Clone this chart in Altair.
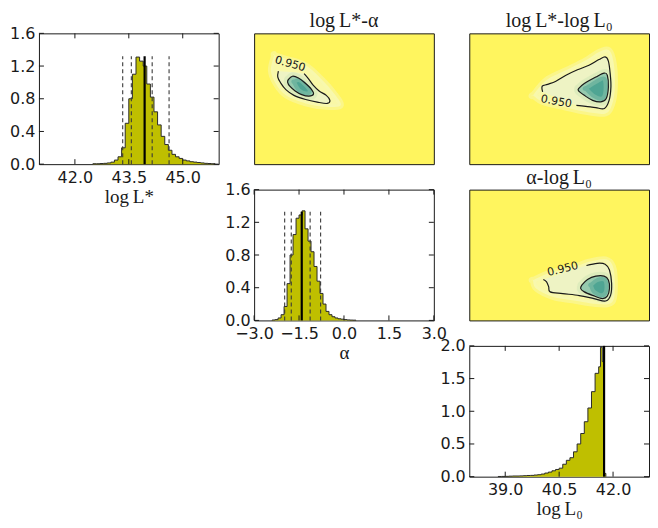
import altair as alt
import pandas as pd

# ---------------- histogram data ----------------
LSTAR_EDGES = [42.5, 42.6, 42.7, 42.8, 42.9, 43.0, 43.1, 43.2, 43.3, 43.4, 43.5, 43.6,
               43.7, 43.8, 43.9, 44.0, 44.1, 44.2, 44.3, 44.4, 44.5, 44.6, 44.7, 44.8,
               44.9, 45.0, 45.1, 45.2, 45.3, 45.4, 45.5, 45.6, 45.7, 45.8, 45.9]
LSTAR_DENS = [0.005, 0.005, 0.008, 0.01, 0.015, 0.025, 0.05, 0.09, 0.2, 0.5, 0.8, 1.1,
              1.31, 1.26, 1.2, 0.98, 0.82, 0.64, 0.48, 0.34, 0.24, 0.17, 0.12, 0.09,
              0.07, 0.05, 0.04, 0.03, 0.025, 0.02, 0.015, 0.01, 0.008, 0.005]
LSTAR_MEDIAN = 43.94
LSTAR_BOUNDS = [43.33, 43.57, 44.15, 44.62]
LSTAR_LINE_TOP = 1.32

ALPHA_EDGES = [-2.4, -2.3, -2.2, -2.1, -2.0, -1.9, -1.8, -1.7, -1.6, -1.5, -1.4, -1.3,
               -1.2, -1.1, -1.0, -0.9, -0.8, -0.7, -0.6, -0.5, -0.4, -0.3, -0.2, -0.1,
               0.0, 0.1, 0.2, 0.3, 0.4]
ALPHA_DENS = [0.005, 0.01, 0.03, 0.07, 0.17, 0.45, 0.8, 1.05, 1.25, 1.29, 1.34, 1.12,
              0.97, 0.84, 0.66, 0.48, 0.33, 0.2, 0.11, 0.07, 0.045, 0.03, 0.02, 0.015,
              0.01, 0.006, 0.004, 0.003]
ALPHA_MEDIAN = -1.41
ALPHA_BOUNDS = [-1.98, -1.76, -1.13, -0.78]
ALPHA_LINE_TOP = 1.33

L0_EDGES = [38.8, 38.9, 39.0, 39.1, 39.2, 39.3, 39.4, 39.5, 39.6, 39.7, 39.8, 39.9,
            40.0, 40.1, 40.2, 40.3, 40.4, 40.5, 40.6, 40.7, 40.8, 40.9, 41.0, 41.1,
            41.2, 41.3, 41.4, 41.5, 41.6, 41.65, 41.7, 41.75, 41.8]
L0_DENS = [0.003, 0.004, 0.005, 0.008, 0.01, 0.01, 0.012, 0.015, 0.018, 0.02, 0.025, 0.03,
           0.04, 0.055, 0.07, 0.09, 0.11, 0.13, 0.19, 0.25, 0.29, 0.38, 0.5, 0.66,
           0.84, 1.05, 1.3, 1.58, 1.68, 1.98, 1.76, 0.05]
L0_MEDIAN = 41.75
L0_LINE_TOP = 2.0

# ---------------- 2-D contour data (vertices) ----------------
# panel logL*-alpha : x = alpha, y = logL*
P2_HALO = [(-2.33, 45.16), (-1.94, 45.03), (-1.28, 44.78), (-0.72, 44.21), (-0.33, 43.70),
           (-0.11, 43.25), (-0.61, 43.19), (-1.28, 43.32), (-1.94, 43.63), (-2.28, 44.08),
           (-2.44, 44.59)]
P2_OUTER = [(-2.19, 44.56), (-2.21, 44.33), (-2.11, 44.10), (-1.94, 43.85), (-1.67, 43.63),
            (-1.28, 43.47), (-0.89, 43.37), (-0.56, 43.32), (-0.47, 43.44), (-0.59, 43.63),
            (-0.83, 43.80), (-1.03, 44.02), (-1.19, 44.27), (-1.33, 44.46)]
P2_INNER = [(-1.86, 44.23), (-1.72, 44.36), (-1.52, 44.29), (-1.30, 44.10), (-1.08, 43.85),
            (-1.02, 43.67), (-1.17, 43.60), (-1.41, 43.66), (-1.63, 43.80), (-1.81, 43.98),
            (-1.88, 44.13)]
P2_CORE = [(-1.67, 44.14), (-1.5, 44.21), (-1.28, 44.02), (-1.14, 43.80), (-1.26, 43.70),
           (-1.5, 43.82)]
P2_LABEL = (-1.80, 44.82)

# panel logL*-logL0 : x = logL0, y = logL*
P3_HALO = [(39.77, 43.63), (40.14, 44.21), (40.69, 44.59), (41.24, 44.97), (41.61, 45.29),
           (41.89, 45.35), (42.02, 44.84), (42.05, 43.95), (41.98, 43.32), (41.79, 42.94),
           (41.24, 43.00), (40.60, 43.19), (40.04, 43.38)]
P3_OUTER = [(40.04, 43.76), (40.03, 43.98), (40.18, 44.05), (40.41, 44.17), (40.69, 44.40),
            (41.01, 44.61), (41.33, 44.78), (41.61, 45.00), (41.78, 45.10), (41.87, 44.94),
            (41.92, 44.46), (41.94, 43.95), (41.89, 43.44), (41.76, 43.13), (41.52, 43.16),
            (41.24, 43.21), (40.98, 43.25)]
P3_INNER = [(41.04, 43.89), (41.20, 44.08), (41.52, 44.33), (41.75, 44.48), (41.84, 44.40),
            (41.87, 43.95), (41.81, 43.51), (41.66, 43.38), (41.43, 43.44), (41.20, 43.63),
            (41.04, 43.80)]
P3_CORE = [(41.24, 43.89), (41.52, 44.14), (41.75, 44.27), (41.79, 43.82), (41.70, 43.51),
           (41.47, 43.60)]
P3_LABEL = (40.42, 43.38)

# panel alpha-logL0 : x = logL0, y = alpha
P5_HALO = [(39.77, -1.15), (40.23, -0.82), (40.87, -0.57), (41.33, -0.31), (41.79, -0.20),
           (42.00, -0.54), (42.05, -1.46), (41.98, -2.15), (41.61, -2.26), (40.87, -2.08),
           (40.32, -1.92), (39.86, -1.54)]
P5_OUTER = [(40.06, -1.12), (40.15, -1.23), (40.21, -1.46), (40.25, -1.69), (40.60, -1.77),
            (41.06, -1.86), (41.47, -2.00), (41.79, -2.11), (41.93, -1.85), (41.96, -1.31),
            (41.90, -0.69), (41.78, -0.42), (41.56, -0.38), (41.26, -0.48)]
P5_INNER = [(41.13, -1.38), (41.29, -1.12), (41.52, -0.97), (41.75, -0.97), (41.87, -1.15),
            (41.90, -1.54), (41.84, -1.89), (41.70, -2.00), (41.43, -1.85), (41.20, -1.69),
            (41.10, -1.54)]
P5_CORE = [(41.38, -1.38), (41.56, -1.15), (41.78, -1.15), (41.81, -1.62), (41.70, -1.85),
           (41.47, -1.69)]
P5_LABEL = (40.60, -0.66)

LSTAR_DOMAIN = [41, 46]
ALPHA_DOMAIN = [-3, 3]
L0_DOMAIN = [38, 43]
LSTAR_TICKS = [42.0, 43.5, 45.0]
ALPHA_TICKS = [-3.0, -1.5, 0.0, 1.5, 3.0]
L0_TICKS = [39.0, 40.5, 42.0]
DENS_TICKS_A = [0.0, 0.4, 0.8, 1.2, 1.6]
DENS_TICKS_B = [0.0, 0.5, 1.0, 1.5, 2.0]

# ---------------- styling ----------------
W, H = 180, 131
TICK_FONT = "DejaVu Sans"
MATH_FONT = "Liberation Serif"
INK = "#1a1a1a"
OLIVE = "#bfbf00"
YELLOW = "#fff55e"
LABEL_SIZE = 16


def x_enc(field, dom, vals, title):
    return alt.X(field, type="quantitative", scale=alt.Scale(domain=dom, nice=False, zero=False),
                 axis=alt.Axis(values=vals, format=".1f", title=title, titleFont=MATH_FONT,
                               titleFontSize=19, titleFontWeight="normal", titleColor=INK,
                               titlePadding=2, labelFont=TICK_FONT, labelFontSize=LABEL_SIZE,
                               labelColor=INK, labelPadding=5, ticks=False, domain=False,
                               grid=False, labelFlush=False, labelOverlap=False,
                               labelBound=False))


def y_enc(field, dom, vals):
    return alt.Y(field, type="quantitative", scale=alt.Scale(domain=dom, nice=False, zero=False),
                 axis=alt.Axis(values=vals, format=".1f", title=None, labelFont=TICK_FONT,
                               labelFontSize=LABEL_SIZE, labelColor=INK, labelPadding=4,
                               ticks=False, domain=False, grid=False, labelFlush=False,
                               labelOverlap=False, labelBound=False))


def hist_panel(edges, dens, median, bounds, line_top, xdom, xticks, xtitle, ydom, yticks):
    xs = [edges[0]] + edges
    ys = [0.0] + dens + [0.0]
    df = pd.DataFrame({"x": xs, "y": ys})
    X = x_enc("x", xdom, xticks, xtitle)
    Y = y_enc("y", ydom, yticks)
    area = alt.Chart(df).mark_area(interpolate="step-after", color=OLIVE).encode(x=X, y=Y)
    outline = alt.Chart(df).mark_line(interpolate="step-after", color="#2b2b2b",
                                      strokeWidth=1).encode(x=X, y=Y)
    layers = [area, outline]
    if bounds:
        bdf = pd.DataFrame({"x": bounds, "y": [0.0] * len(bounds), "y2": [line_top] * len(bounds)})
        layers.append(alt.Chart(bdf).mark_rule(color="#3a3a3a", strokeWidth=1.1,
                                               strokeDash=[4, 3]).encode(
            x=X, y=Y, y2="y2:Q"))
    mdf = pd.DataFrame({"x": [median], "y": [0.0], "y2": [line_top]})
    layers.append(alt.Chart(mdf).mark_rule(color="black", strokeWidth=2.2).encode(
        x=X, y=Y, y2="y2:Q"))
    # inward ticks on all four sides
    tx = pd.DataFrame({"x": xticks})
    ty = pd.DataFrame({"y": yticks})
    layers.append(alt.Chart(tx).mark_rule(color=INK, strokeWidth=1).encode(
        x=X, y=alt.value(0), y2=alt.value(5)))
    layers.append(alt.Chart(tx).mark_rule(color=INK, strokeWidth=1).encode(
        x=X, y=alt.value(H), y2=alt.value(H - 5)))
    layers.append(alt.Chart(ty).mark_rule(color=INK, strokeWidth=1).encode(
        y=Y, x=alt.value(0), x2=alt.value(5)))
    layers.append(alt.Chart(ty).mark_rule(color=INK, strokeWidth=1).encode(
        y=Y, x=alt.value(W), x2=alt.value(W - 5)))
    return alt.layer(*layers).properties(
        width=W, height=H,
        view=alt.ViewBackground(stroke=INK, strokeWidth=1, fill="white"))


def poly_df(pts, close):
    seq = list(pts) + ([pts[0]] if close else [])
    return pd.DataFrame({"x": [p[0] for p in seq], "y": [p[1] for p in seq],
                         "i": list(range(len(seq)))})


def contour_panel(halo, outer, inner, core, label, label_angle, xdom, ydom, title):
    X = alt.X("x:Q", scale=alt.Scale(domain=xdom, nice=False, zero=False), axis=None)
    Y = alt.Y("y:Q", scale=alt.Scale(domain=ydom, nice=False, zero=False), axis=None)
    O = alt.Order("i:Q")
    layers = [
        alt.Chart(poly_df(halo, True)).mark_line(
            fill="#f8f8b4", stroke="#f8f8b4", strokeWidth=6, fillOpacity=0.85,
            strokeOpacity=0.5, interpolate="cardinal-closed").encode(x=X, y=Y, order=O),
        alt.Chart(poly_df(outer, True)).mark_line(
            fill="#eef3c4", strokeOpacity=0, interpolate="cardinal-closed").encode(
            x=X, y=Y, order=O),
        alt.Chart(poly_df(inner, True)).mark_line(
            fill="#d4e8b8", stroke="#d4e8b8", strokeWidth=8, strokeOpacity=0.6,
            interpolate="cardinal-closed").encode(x=X, y=Y, order=O),
        alt.Chart(poly_df(inner, True)).mark_line(
            fill="#96caae", strokeOpacity=0, interpolate="cardinal-closed").encode(
            x=X, y=Y, order=O),
        alt.Chart(poly_df(core, True)).mark_line(
            fill="#4fa593", stroke="#6fb59f", strokeWidth=4,
            interpolate="cardinal-closed").encode(x=X, y=Y, order=O),
        alt.Chart(poly_df(inner, True)).mark_line(
            color=INK, strokeWidth=1.2, interpolate="cardinal").encode(x=X, y=Y, order=O),
        alt.Chart(poly_df(outer, False)).mark_line(
            color=INK, strokeWidth=1.2, interpolate="cardinal").encode(x=X, y=Y, order=O),
        alt.Chart(pd.DataFrame({"x": [label[0]], "y": [label[1]]})).mark_text(
            text="0.950", font=TICK_FONT, fontSize=11, color=INK,
            angle=label_angle).encode(x=X, y=Y),
    ]
    return alt.layer(*layers).properties(
        width=W, height=H,
        title=alt.Title(title, font=MATH_FONT, fontSize=20, fontWeight="normal",
                        color=INK, offset=2),
        view=alt.ViewBackground(stroke=INK, strokeWidth=1, fill=YELLOW))


def blank():
    return alt.Chart(pd.DataFrame({"x": [0]})).mark_point(opacity=0).encode(
        x=alt.X("x:Q", axis=None), y=alt.Y("x:Q", axis=None)).properties(
        width=W, height=H, view=alt.ViewBackground(stroke="transparent", fill="transparent"))


h1 = hist_panel(LSTAR_EDGES, LSTAR_DENS, LSTAR_MEDIAN, LSTAR_BOUNDS, LSTAR_LINE_TOP,
                LSTAR_DOMAIN, LSTAR_TICKS, "log\u2009L*", [0, 1.6], DENS_TICKS_A)
h2 = hist_panel(ALPHA_EDGES, ALPHA_DENS, ALPHA_MEDIAN, ALPHA_BOUNDS, ALPHA_LINE_TOP,
                ALPHA_DOMAIN, ALPHA_TICKS, "α", [0, 1.6], DENS_TICKS_A)
h3 = hist_panel(L0_EDGES, L0_DENS, L0_MEDIAN, [], L0_LINE_TOP,
                L0_DOMAIN, L0_TICKS, "log\u2009L\u2080", [0, 2.0], DENS_TICKS_B)

c12 = contour_panel(P2_HALO, P2_OUTER, P2_INNER, P2_CORE, P2_LABEL, 16,
                    ALPHA_DOMAIN, LSTAR_DOMAIN, "log\u2009L*-α")
c13 = contour_panel(P3_HALO, P3_OUTER, P3_INNER, P3_CORE, P3_LABEL, 10,
                    L0_DOMAIN, LSTAR_DOMAIN, "log\u2009L*-log\u2009L\u2080")
c23 = contour_panel(P5_HALO, P5_OUTER, P5_INNER, P5_CORE, P5_LABEL, 346,
                    L0_DOMAIN, ALPHA_DOMAIN, "α-log\u2009L\u2080")

chart = alt.concat(h1, c12, c13, blank(), h2, c23, blank(), blank(), h3,
                   columns=3, spacing={"row": 25.5, "column": 35.5}, bounds="flush").properties(
    padding={"left": 1, "right": 0, "top": 2, "bottom": 0},
    background="white")

chart.save("out.html", embed_options={"renderer": "svg", "actions": False})
